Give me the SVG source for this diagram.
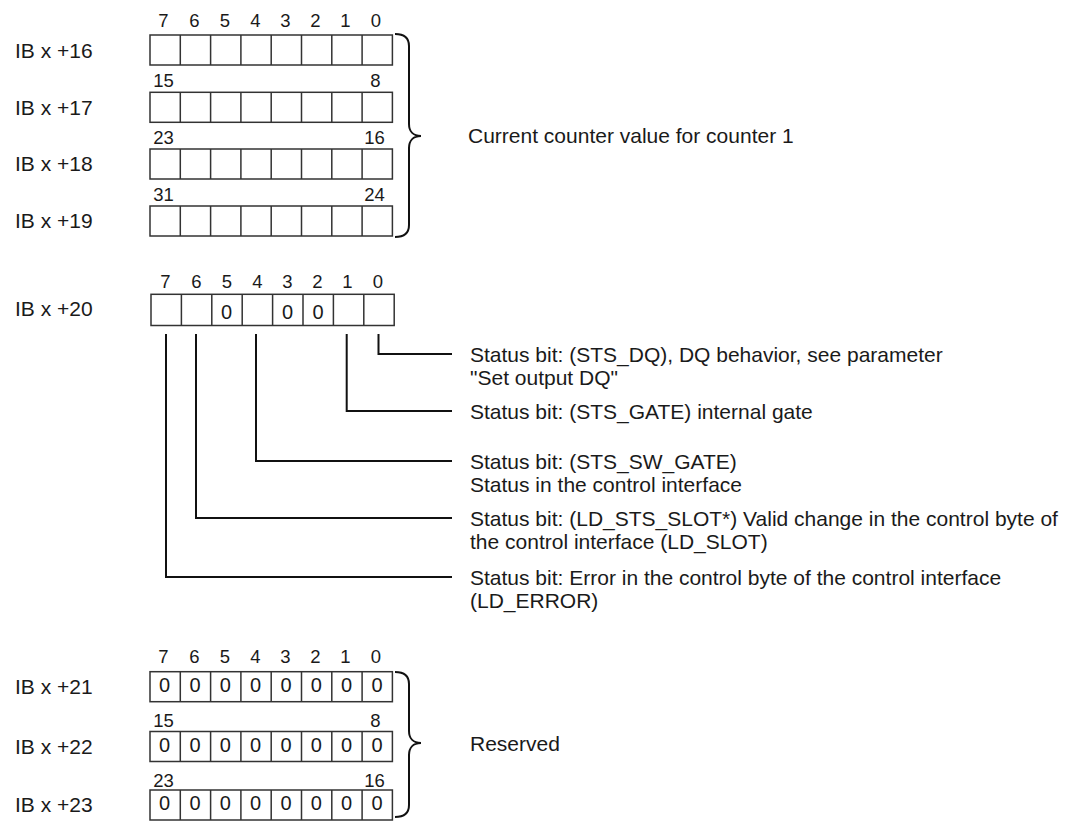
<svg xmlns="http://www.w3.org/2000/svg" width="1082" height="821" viewBox="0 0 1082 821">
<style>
text{font-family:"Liberation Sans",Arial,sans-serif;fill:#1a1a1a}
.lbl{font-size:21px}
.num{font-size:18.5px;text-anchor:middle}
.z{font-size:20px;text-anchor:middle}
.d{font-size:21px}
.cell{fill:#fff;stroke:#333;stroke-width:1.5}
.div{stroke:#333;stroke-width:1.5}
.br{fill:none;stroke:#111;stroke-width:2}
.con{fill:none;stroke:#111;stroke-width:2}
</style>
<rect width="1082" height="821" fill="#fff"/>
<defs>
<g id="byte">
<rect class="cell" x="0" y="0" width="242.4" height="30"/>
<path class="div" d="M30.3,0V30M60.6,0V30M90.9,0V30M121.2,0V30M151.5,0V30M181.8,0V30M212.1,0V30"/>
</g>
<g id="zeros">
<text class="z" x="14.5" y="0">0</text><text class="z" x="45" y="0">0</text><text class="z" x="75.3" y="0">0</text><text class="z" x="105.6" y="0">0</text><text class="z" x="136" y="0">0</text><text class="z" x="166.3" y="0">0</text><text class="z" x="196.6" y="0">0</text><text class="z" x="227" y="0">0</text>
</g>
<g id="hdr">
<text class="num" x="13.5" y="0">7</text><text class="num" x="44.5" y="0">6</text><text class="num" x="75" y="0">5</text><text class="num" x="105.5" y="0">4</text><text class="num" x="135.5" y="0">3</text><text class="num" x="165.5" y="0">2</text><text class="num" x="195.5" y="0">1</text><text class="num" x="226" y="0">0</text>
</g>
</defs>

<g id="counter-value">
<use href="#hdr" x="150" y="27"/>
<text class="lbl" x="15" y="57.5">IB x +16</text>
<use href="#byte" x="150" y="35"/>
<text class="num" x="163.5" y="87.3">15</text><text class="num" x="375.5" y="87.3">8</text>
<text class="lbl" x="15" y="114.5">IB x +17</text>
<use href="#byte" x="150" y="92.3"/>
<text class="num" x="163.5" y="144">23</text><text class="num" x="374.5" y="144">16</text>
<text class="lbl" x="15" y="171">IB x +18</text>
<use href="#byte" x="150" y="149"/>
<text class="num" x="163.5" y="200.5">31</text><text class="num" x="374.5" y="200.5">24</text>
<text class="lbl" x="15" y="228">IB x +19</text>
<use href="#byte" x="150" y="206"/>
<path class="br" d="M395,34 C404,34 409,38 409,46 L409,124 C409,131 413,136 421,136 C413,136 409,141 409,148 L409,225 C409,233 404,237 395,237"/>
<text class="d" x="468" y="143">Current counter value for counter 1</text>
</g>

<g id="status-byte">
<use href="#hdr" x="152" y="288"/>
<text class="lbl" x="15" y="315.5">IB x +20</text>
<rect class="cell" x="151" y="294.3" width="243.2" height="31.2"/>
<path class="div" d="M181.4,294.3V325.5M211.8,294.3V325.5M242.2,294.3V325.5M272.6,294.3V325.5M303,294.3V325.5M333.4,294.3V325.5M363.8,294.3V325.5"/>
<text class="z" x="226.5" y="318.5">0</text>
<text class="z" x="287.5" y="318.5">0</text>
<text class="z" x="318" y="318.5">0</text>
</g>

<g id="connectors">
<path class="con" d="M378.5,334V354H452"/>
<path class="con" d="M346.7,334V411H452"/>
<path class="con" d="M256,334V461H452"/>
<path class="con" d="M196,334V518H452"/>
<path class="con" d="M166,334V577H452"/>
</g>

<g id="desc-dq">
<text class="d" x="470" y="361.5">Status bit: (STS_DQ), DQ behavior, see parameter</text>
<text class="d" x="470" y="384.5">"Set output DQ"</text>
</g>
<g id="desc-gate">
<text class="d" x="470" y="418.5">Status bit: (STS_GATE) internal gate</text>
</g>
<g id="desc-swgate">
<text class="d" x="470" y="468.5">Status bit: (STS_SW_GATE)</text>
<text class="d" x="470" y="491.5">Status in the control interface</text>
</g>
<g id="desc-slot">
<text class="d" x="470" y="525.5">Status bit: (LD_STS_SLOT*) Valid change in the control byte of</text>
<text class="d" x="470" y="548.5">the control interface (LD_SLOT)</text>
</g>
<g id="desc-error">
<text class="d" x="470" y="584.5">Status bit: Error in the control byte of the control interface</text>
<text class="d" x="470" y="607.5">(LD_ERROR)</text>
</g>

<g id="reserved">
<use href="#hdr" x="150" y="663.3"/>
<text class="lbl" x="15" y="694">IB x +21</text>
<use href="#byte" x="150" y="671.7"/>
<use href="#zeros" x="150" y="691.7"/>
<text class="num" x="163.5" y="726.7">15</text><text class="num" x="375.5" y="726.7">8</text>
<text class="lbl" x="15" y="753.5">IB x +22</text>
<use href="#byte" x="150" y="731.5"/>
<use href="#zeros" x="150" y="751.5"/>
<text class="num" x="163.5" y="786.5">23</text><text class="num" x="374.5" y="786.5">16</text>
<text class="lbl" x="15" y="812">IB x +23</text>
<use href="#byte" x="150" y="790"/>
<use href="#zeros" x="150" y="810"/>
<path class="br" d="M395,672 C404,672 409,676 409,684 L409,731 C409,738 413,743 421,743 C413,743 409,748 409,755 L409,805 C409,813 404,817 395,817"/>
<text class="d" x="470" y="751">Reserved</text>
</g>
</svg>
